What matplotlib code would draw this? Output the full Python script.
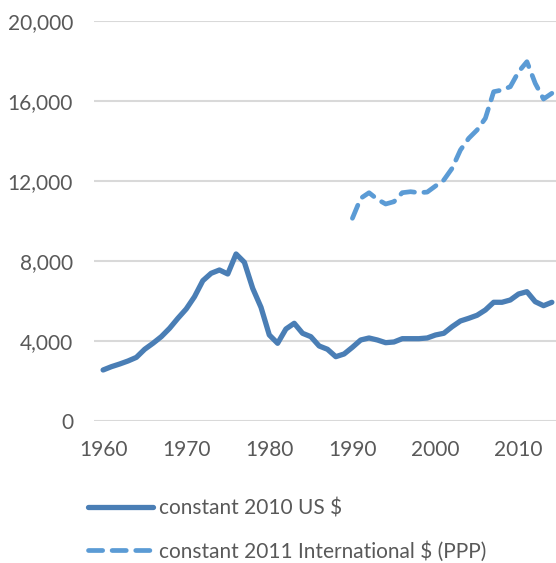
import matplotlib
matplotlib.use("Agg")
import matplotlib.pyplot as plt
from matplotlib.ticker import FuncFormatter

# GDP per capita
years_usd = list(range(1960, 2015))
gdp_usd = [2535, 2700, 2835, 2985, 3165, 3570, 3870, 4200, 4620, 5120,
           5585, 6200, 7000, 7370, 7535, 7335, 8335, 7920, 6620, 5670,
           4285, 3870, 4585, 4870, 4370, 4200, 3735, 3570, 3200, 3335,
           3670, 4035, 4135, 4035, 3900, 3935, 4100, 4100, 4100, 4135,
           4285, 4370, 4700, 4985, 5120, 5270, 5535, 5920, 5920, 6035,
           6335, 6450, 5950, 5750, 5920]

years_ppp = list(range(1990, 2015))
gdp_ppp = [10120, 11120, 11400, 11070, 10835, 10950, 11400, 11450, 11400, 11430,
           11735, 12035, 12620, 13535, 14120, 14535, 15120, 16450, 16535, 16700,
           17450, 17950, 16870, 16085, 16370]

labels = ["constant 2010 US $", "constant 2011 International $ (PPP)"]
xticks = [1960, 1970, 1980, 1990, 2000, 2010]
yticks = [0, 4000, 8000, 12000, 16000, 20000]

plt.rcParams['font.family'] = ['Lato', 'DejaVu Sans']
text_gray = '#595959'

fig = plt.figure(figsize=(5.56, 5.63), dpi=100)
ax = fig.add_axes([0.169, 0.2528, 0.831, 0.7104])

ax.plot(years_usd, gdp_usd, color='#4a7eb5', lw=3.8,
        solid_capstyle='round', solid_joinstyle='round', label=labels[0])
ax.plot(years_ppp, gdp_ppp, color='#5b9bd5', lw=3.4, dashes=(3, 2),
        dash_capstyle='round', dash_joinstyle='round', label=labels[1])

ax.set_xlim(1958.9, 2014.5)
ax.set_ylim(0, 20000)
ax.set_xticks(xticks)
ax.set_yticks(yticks)
ax.yaxis.set_major_formatter(FuncFormatter(lambda v, p: f"{int(v):,}"))

ax.grid(axis='y', color='#d9d9d9', lw=1.5)
ax.set_axisbelow(True)
for s in ax.spines.values():
    s.set_visible(False)
ax.tick_params(length=0, labelsize=15, labelcolor=text_gray)
ax.tick_params(axis='y', pad=15)
ax.tick_params(axis='x', pad=14)

fig.legend(loc='upper left', bbox_to_anchor=(0.143, 0.13), frameon=False,
           fontsize=15, labelcolor=text_gray, handlelength=3.15,
           handletextpad=0.25, labelspacing=1.1, borderaxespad=0)

fig.savefig('out.png', dpi=100)
